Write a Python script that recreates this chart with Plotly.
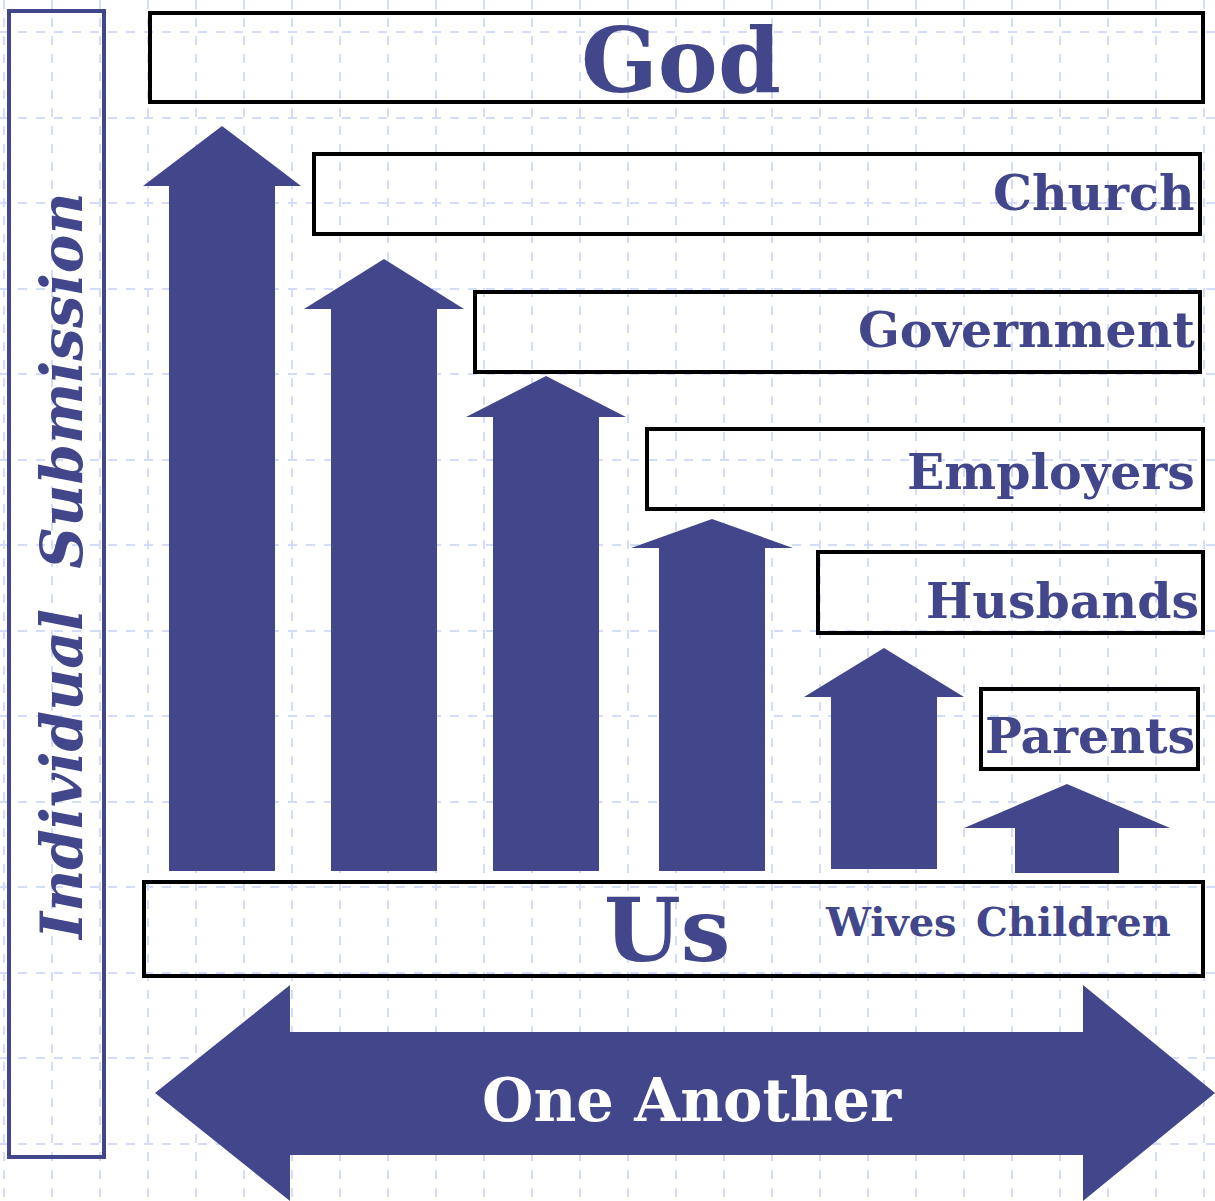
import plotly.graph_objects as go

# ---- data ----
authorities = ["God", "Church", "Government", "Employers", "Husbands", "Parents"]
submitters = ["Us", "Wives", "Children"]
axis_title = "Individual\u00a0\u00a0Submission"
mutual_label = "One Another"

# ---- layout constants (pixels of the 1215x1201 canvas) ----
W, H = 1215, 1201
NAVY = "#42478b"
GRID = "#d3ddfb"

box_left = [150, 314, 475, 647, 818, 981]
box_right = [1203, 1200, 1200, 1203, 1203, 1198]
box_top = [13, 154, 292, 429, 552, 689]
box_bottom = [102, 234, 372, 509, 633, 769]
label_right = [1197, 1197, 1197, 1197, 1201, 1197]
label_y = [60, 193, 330, 472, 601, 736]

arrow_cx = [222, 384, 546, 712, 884, 1067]
shaft_half = [53, 53, 53, 53, 53, 52]
head_half = [79, 80, 80, 81, 80, 103]
arrow_tip = [126, 259, 376, 519, 648, 784]
head_base = [186, 309, 417, 548, 697, 828]
arrow_bottom = [871, 871, 871, 871, 869, 873]

FONT = "DejaVu Serif"

fig = go.Figure()

# up arrows
for i in range(len(arrow_cx)):
    cx, s, h = arrow_cx[i], shaft_half[i], head_half[i]
    xs = [cx - s, cx - s, cx - h, cx, cx + h, cx + s, cx + s, cx - s]
    ys = [arrow_bottom[i], head_base[i], head_base[i], arrow_tip[i], head_base[i], head_base[i], arrow_bottom[i], arrow_bottom[i]]
    fig.add_trace(go.Scatter(x=xs, y=ys, mode="lines", fill="toself", fillcolor=NAVY,
                             line=dict(color=NAVY, width=0), hoverinfo="skip", showlegend=False))

# double arrow (One Another)
dx = [155, 290, 290, 1083, 1083, 1215, 1083, 1083, 290, 290, 155]
dy = [1093, 985, 1032, 1032, 985, 1093, 1201, 1155, 1155, 1201, 1093]
fig.add_trace(go.Scatter(x=dx, y=dy, mode="lines", fill="toself", fillcolor=NAVY,
                         line=dict(color=NAVY, width=0), hoverinfo="skip", showlegend=False))

shapes = []
# authority boxes
for i in range(len(authorities)):
    shapes.append(dict(type="rect", xref="x", yref="y", x0=box_left[i], x1=box_right[i],
                       y0=box_top[i], y1=box_bottom[i], line=dict(color="black", width=4),
                       fillcolor="rgba(0,0,0,0)", layer="above"))
# Us box
shapes.append(dict(type="rect", xref="x", yref="y", x0=144, x1=1203, y0=882, y1=976,
                   line=dict(color="black", width=4), fillcolor="rgba(0,0,0,0)", layer="above"))
# Individual submission box
shapes.append(dict(type="rect", xref="x", yref="y", x0=9, x1=104, y0=11, y1=1157,
                   line=dict(color=NAVY, width=4), fillcolor="rgba(0,0,0,0)", layer="above"))

ann = []
# God
ann.append(dict(x=681, y=label_y[0], text="<b>" + authorities[0] + "</b>", showarrow=False,
                font=dict(family=FONT, size=90, color=NAVY), xanchor="center", yanchor="middle"))
for i, name in enumerate(authorities[1:], start=1):
    ann.append(dict(x=label_right[i], y=label_y[i], text="<b>" + name + "</b>", showarrow=False,
                    font=dict(family=FONT, size=49, color=NAVY), xanchor="right", yanchor="middle"))
# Us
ann.append(dict(x=667, y=930, text="<b>" + submitters[0] + "</b>", showarrow=False,
                font=dict(family=FONT, size=88, color=NAVY), xanchor="center", yanchor="middle"))
ann.append(dict(x=891, y=921, text="<b>" + submitters[1] + "</b>", showarrow=False,
                font=dict(family=FONT, size=40, color=NAVY), xanchor="center", yanchor="middle"))
ann.append(dict(x=1073, y=921, text="<b>" + submitters[2] + "</b>", showarrow=False,
                font=dict(family=FONT, size=40, color=NAVY), xanchor="center", yanchor="middle"))
# One Another
ann.append(dict(x=692, y=1100, text="<b>" + mutual_label + "</b>", showarrow=False,
                font=dict(family=FONT, size=59, color="white"), xanchor="center", yanchor="middle"))
# vertical title
ann.append(dict(x=62, y=567, text="<b><i>" + axis_title + "</i></b>", showarrow=False, textangle=-90,
                font=dict(family=FONT, size=58, color=NAVY), xanchor="center", yanchor="middle"))

fig.update_layout(
    width=W, height=H, margin=dict(l=0, r=0, t=0, b=0),
    paper_bgcolor="white", plot_bgcolor="white",
    shapes=shapes, annotations=ann, showlegend=False,
    xaxis=dict(range=[0, W], showticklabels=False, zeroline=False, showline=False,
               showgrid=True, gridcolor=GRID, griddash="dash", gridwidth=1.5,
               tick0=4, dtick=48, fixedrange=True),
    yaxis=dict(range=[H, 0], showticklabels=False, zeroline=False, showline=False,
               showgrid=True, gridcolor=GRID, griddash="dash", gridwidth=1.5,
               tick0=32, dtick=85.5, fixedrange=True),
)

fig.write_html("out.html", config={"displayModeBar": False},
               post_script="document.body.style.margin='0';document.body.style.overflow='hidden';")
